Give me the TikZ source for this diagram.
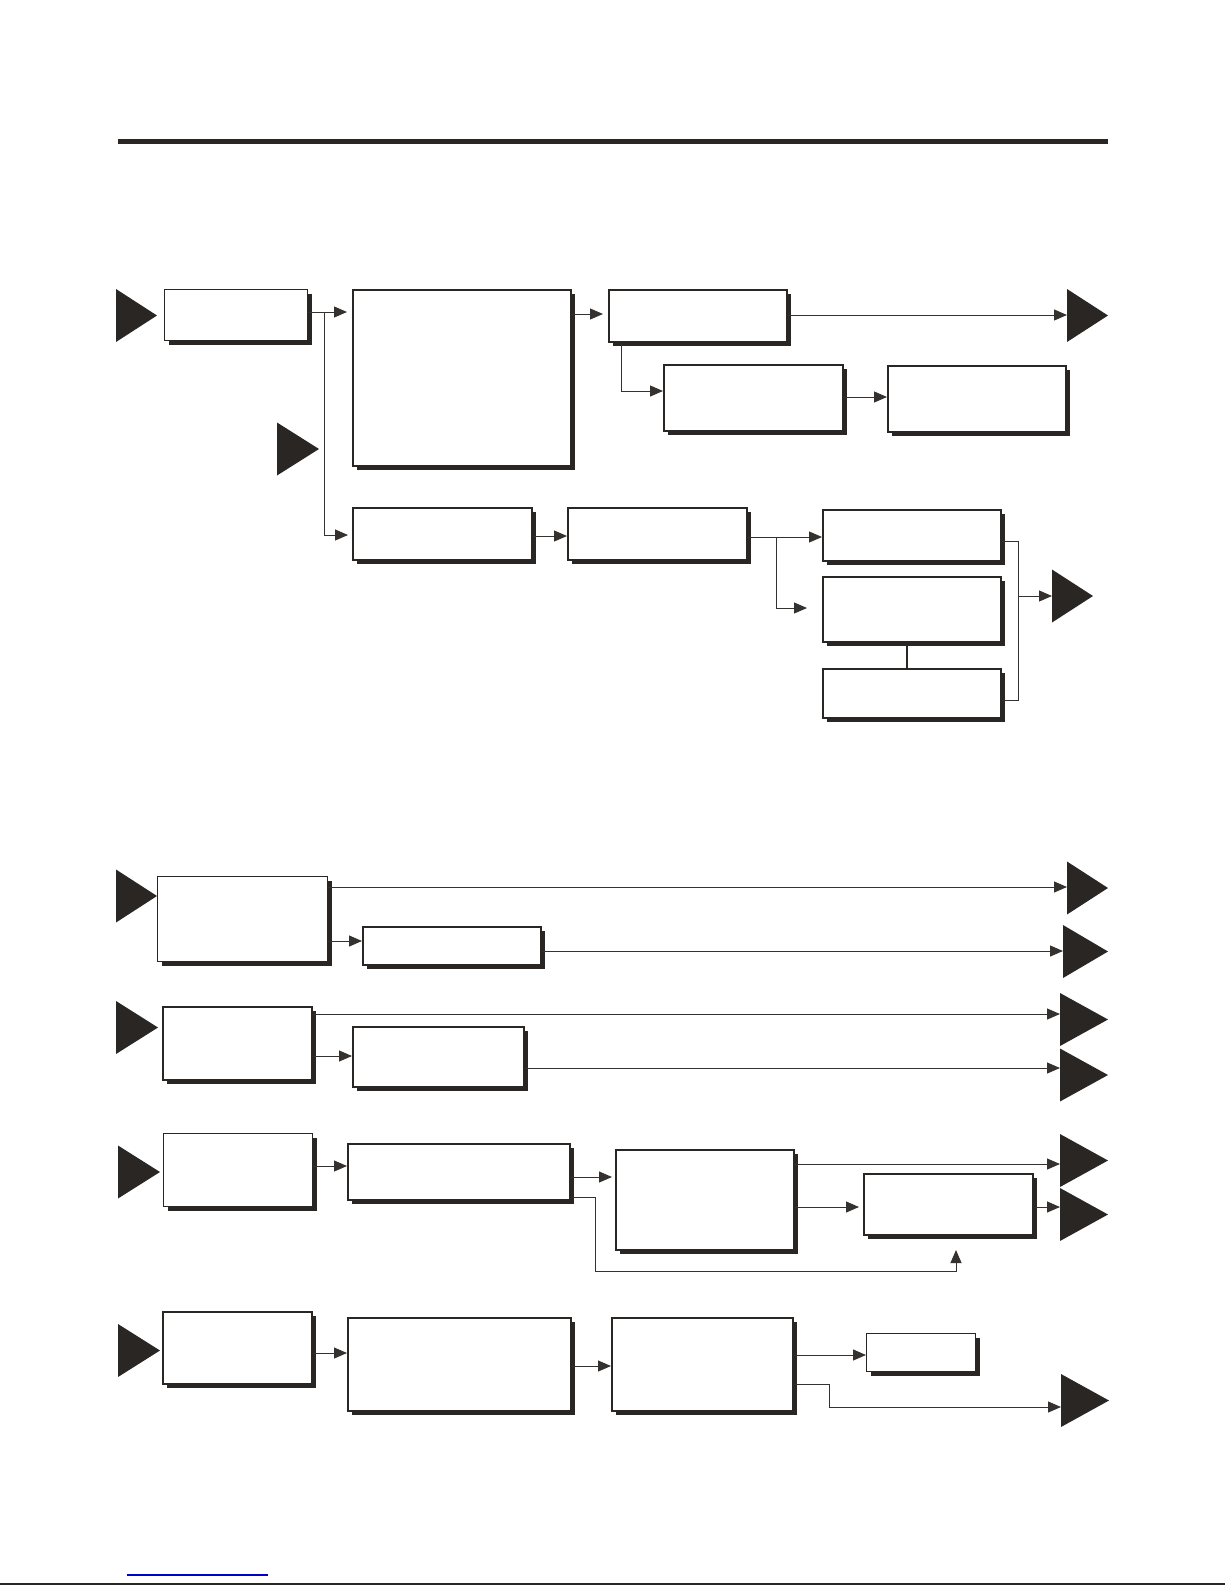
\documentclass[tikz,border=0pt]{standalone}
\usepackage{tikz}
\usetikzlibrary{arrows.meta,shapes.geometric,shadows}
\definecolor{ink}{HTML}{2A2623}
\definecolor{wirecol}{HTML}{35312E}
\definecolor{linkblue}{HTML}{0000CC}
\tikzset{
  box/.style={draw=ink, line width=2pt, fill=white, inner sep=0pt, anchor=north west,
    drop shadow={shadow xshift=4pt, shadow yshift=-4pt, fill=ink, opacity=1}},
  thinbox/.style={box, line width=1.2pt},
  term/.style={isosceles triangle, isosceles triangle stretches, fill=ink, inner sep=0pt,
    outer sep=0pt, anchor=west, minimum width=53pt},
  conn/.style={draw=wirecol, line width=1pt},
  feed/.style={conn, -{Triangle[length=13pt,width=11pt]}}
}
\begin{document}
\begin{tikzpicture}[x=1pt,y=-1pt]
                            \useasboundingbox (0,0) rectangle (1225,1585);
                            \fill[white] (0,0) rectangle (1225,1585);
                            \draw[ink, line width=5pt] (118,141.5) -- (1108,141.5);
                            % Boxes
                            \foreach \nm/\xa/\ya/\xb/\yb in {B/352/289/570/465, D1/608/289/786/341, D2/663/364/842/430,
                                D3/887/365/1065/431, C1/352/507/531/559, C2/567/507/746/559, E1/822/509/1000/560,
                                E2/822/576/1000/641, E3/822/668/1000/717, F2/362/926/540/964, G1/162/1006/311/1079,
                                G2/352/1026/523/1086, H2/347/1143/569/1199, H3/615/1149/793/1249, H4/863/1173/1032/1234,
                                I1/162/1311/311/1383, I2/347/1317/570/1410, I3/611/1317/792/1410} {
                              \node[box, minimum width={\xb-\xa}, minimum height={\yb-\ya}] (\nm) at (\xa,\ya) {};
                            }
                            \foreach \nm/\xa/\ya/\xb/\yb in {A1/164/289/307/340, F1/157/876/327/961, H1/163/1133/312/1206,
                                I4/866/1333/975/1371} {
                              \node[thinbox, minimum width={\xb-\xa}, minimum height={\yb-\ya}] (\nm) at (\xa,\ya) {};
                            }
                            % Terminals
                            \foreach \nm/\xa/\ya/\w in {tA/116/315.5/41, tM/277/449/42, tD/1067/315.5/41, tE/1052/596/41,
                                tF/116/896/41, tF1/1067/888/41, tF2/1063/951.5/45, tG/116/1027.5/42, tG1/1060/1019.5/48,
                                tG2/1060/1075/48, tH/118/1172/42, tH1/1060/1160.5/48, tH2/1060/1214.5/48,
                                tI/118/1350.5/42, tI1/1061/1400.5/48} {
                              \node[term, minimum height=\w pt] (\nm) at (\xa,\ya) {};
                            }
                            % Junctions
                            \coordinate (jA) at (324,312);
                            \coordinate (jC) at (776,537);
                            \coordinate (jE) at (1018,596);
                            \coordinate (fb1) at (595,1271);
                            \coordinate (fb2) at (956,1250);
                            \coordinate (jI) at (829,1407);
                            % Edges
                            \draw[feed, shorten >=5pt] (A1.east |- jA) -- (B.west |- jA);
                            \draw[feed, shorten >=4pt] (jA) |- (C1.west |- 0,535);
                            \draw[feed, shorten >=5pt] (B.east |- 0,314) -- (D1.west |- 0,314);
                            \draw[feed] (D1.east |- 0,315) -- (tD.west |- 0,315);
                            \draw[feed] ([xshift=13pt]D1.south west) |- (D2.west |- 0,391);
                            \draw[feed] (D2.east |- 0,397) -- (D3.west |- 0,397);
                            \draw[feed] (C1.east |- 0,536) -- (C2.west |- 0,536);
                            \draw[feed] (C2.east |- jC) -- (E1.west |- jC);
                            \draw[feed, shorten >=15pt] (jC) |- (E2.west |- 0,608);
                            \draw[ink, line width=2pt] (E2.south -| 907,0) -- (E3.north -| 907,0);
                            \draw[conn] (E1.east |- 0,541) -| (jE) |- (E3.east |- 0,700);
                            \draw[feed] (jE) -- (tE.west |- jE);
                            \draw[feed] (F1.east |- 0,887) -- (tF1.west |- 0,887);
                            \draw[feed] (F1.east |- 0,941) -- (F2.west |- 0,941);
                            \draw[feed] (F2.east |- 0,951) -- (tF2.west |- 0,951);
                            \draw[feed] (G1.east |- 0,1014) -- (tG1.west |- 0,1014);
                            \draw[feed] (G1.east |- 0,1056) -- (G2.west |- 0,1056);
                            \draw[feed] (G2.east |- 0,1068) -- (tG2.west |- 0,1068);
                            \draw[feed] (H1.east |- 0,1166) -- (H2.west |- 0,1166);
                            \draw[feed, shorten >=3pt] (H2.east |- 0,1177) -- (H3.west |- 0,1177);
                            \draw[feed] (H3.east |- 0,1164) -- (tH1.west |- 0,1164);
                            \draw[feed, shorten >=4pt] (H3.east |- 0,1207) -- (H4.west |- 0,1207);
                            \draw[feed] (H4.east |- 0,1207) -- (tH2.west |- 0,1207);
                            \draw[feed] (H2.east |- 0,1197) -| (fb1) -| (fb2);
                            \draw[feed] (I1.east |- 0,1353) -- (I2.west |- 0,1353);
                            \draw[feed] (I2.east |- 0,1366) -- (I3.west |- 0,1366);
                            \draw[feed] (I3.east |- 0,1355) -- (I4.west |- 0,1355);
                            \draw[feed] (I3.east |- 0,1384) -| (jI) -- (tI1.west |- jI);
                            % Footer
                            \draw[linkblue, line width=1.5pt] (127,1575) -- (268,1575);
                            \draw[ink, line width=2pt] (0,1584) -- (1225,1584);
                        \end{tikzpicture}
\end{document}
